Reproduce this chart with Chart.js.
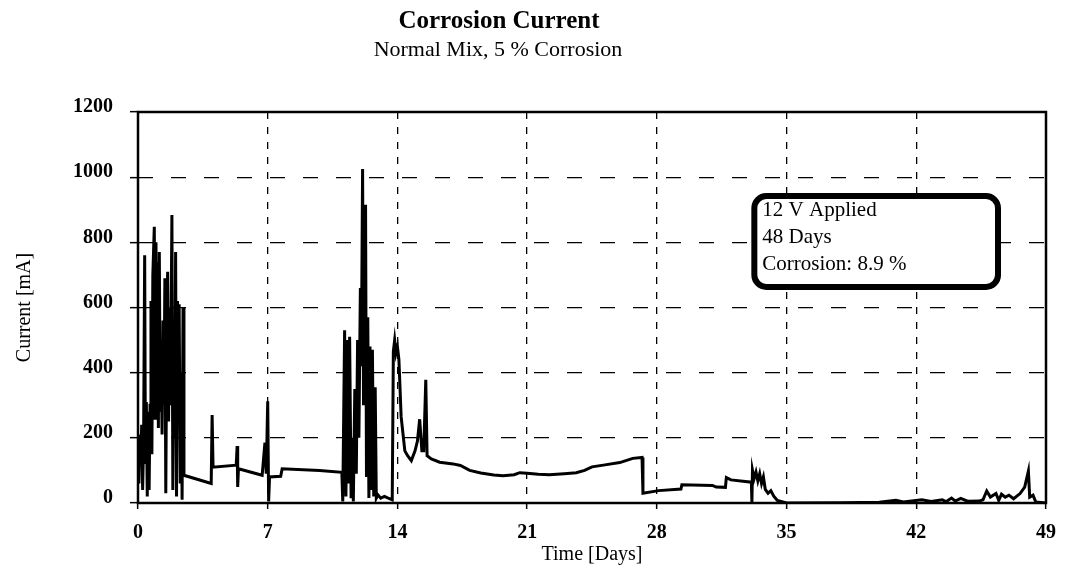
<!DOCTYPE html>
<html>
<head>
<meta charset="utf-8">
<script src="https://cdn.jsdelivr.net/npm/chart.js@4.4.0/dist/chart.umd.min.js"></script>
<style>
	body { margin: 0; background: #fff; }
</style>
</head>
<body>
<canvas id="chart" width="1068" height="574"></canvas>
<script>
const TITLE = "Corrosion Current";
const SUBTITLE = "Normal Mix, 5 % Corrosion";
const X_TITLE = "Time [Days]";
const Y_TITLE = "Current [mA]";
const NOTE_LINES = ["12 V Applied", "48 Days", "Corrosion: 8.9 %"];
const X_TICKS = [0, 7, 14, 21, 28, 35, 42, 49];
const Y_TICKS = [0, 200, 400, 600, 800, 1000, 1200];

// time in days
const DAYS = [
	0.00, 0.05, 0.10, 0.15, 0.20, 0.25, 0.30, 0.36, 0.40, 0.45,
	0.50, 0.55, 0.60, 0.65, 0.70, 0.75, 0.80, 0.88, 0.92, 0.97,
	1.02, 1.06, 1.10, 1.15, 1.20, 1.25, 1.30, 1.35, 1.40, 1.45,
	1.50, 1.55, 1.60, 1.65, 1.70, 1.75, 1.83, 1.88, 1.93, 1.98,
	2.03, 2.08, 2.13, 2.18, 2.22, 2.28, 2.33, 2.38, 2.43, 2.48,
	3.95, 4.00, 4.05, 5.30, 5.35, 5.38, 5.42, 6.70, 6.85, 6.92,
	7.00, 7.05, 7.10, 7.70, 7.78, 9.80, 11.00, 11.05, 11.15, 11.22,
	11.30, 11.36, 11.42, 11.50, 11.58, 11.62, 11.70, 11.78, 11.85, 11.92,
	12.00, 12.05, 12.12, 12.17, 12.22, 12.28, 12.33, 12.40, 12.46, 12.52,
	12.58, 12.65, 12.72, 12.80, 12.86, 12.95, 13.10, 13.30, 13.50, 13.72,
	13.78, 13.85, 13.92, 14.00, 14.08, 14.20, 14.40, 14.55, 14.75, 14.95,
	15.08, 15.20, 15.32, 15.42, 15.53, 15.60, 15.83, 16.28, 17.00, 17.40,
	17.90, 18.50, 19.20, 19.70, 20.30, 20.60, 21.00, 21.60, 22.20, 23.00,
	23.65, 24.10, 24.50, 25.20, 26.00, 26.70, 27.20, 27.25, 28.10, 29.30,
	29.35, 31.00, 31.20, 31.70, 31.75, 32.00, 33.10, 33.13, 33.16, 33.25,
	33.35, 33.45, 33.55, 33.65, 33.75, 33.85, 34.00, 34.15, 34.30, 34.50,
	34.70, 35.00, 38.00, 40.00, 40.90, 41.30, 42.30, 42.80, 43.40, 43.60,
	43.90, 44.10, 44.40, 44.80, 45.40, 45.60, 45.80, 46.00, 46.30, 46.45,
	46.60, 46.80, 47.00, 47.25, 47.60, 47.85, 48.05, 48.12, 48.30, 48.45,
	49.00,
];
// current in mA
const CURRENT = [
	200, 60, 210, 130, 240, 40, 180, 760, 120, 310,
	20, 280, 40, 300, 620, 150, 700, 848, 260, 800,
	300, 740, 230, 770, 280, 450, 210, 560, 300, 690,
	30, 500, 710, 250, 600, 300, 884, 40, 440, 200,
	770, 20, 620, 300, 610, 60, 400, 10, 600, 85,
	60, 270, 110, 116, 175, 49, 105, 85, 185, 90,
	312, 5, 80, 82, 105, 100, 94, 5, 530, 20,
	500, 60, 510, 15, 200, 5, 350, 90, 500, 200,
	660, 420, 1025, 300, 700, 915, 80, 570, 15, 480,
	40, 470, 20, 355, 15, 25, 15, 20, 15, 10,
	465, 500, 460, 480, 440, 265, 160, 145, 130, 160,
	190, 257, 160, 160, 378, 145, 135, 125, 120, 115,
	100, 92, 86, 84, 87, 93, 91, 88, 87, 90,
	93, 100, 111, 117, 124, 137, 140, 30, 38, 43,
	56, 54, 49, 48, 78, 71, 64, 2, 101, 75,
	95, 68, 90, 60, 80, 42, 30, 38, 22, 8,
	5, 0, 1, 2, 8, 3, 10, 5, 10, 4,
	15, 6, 14, 5, 6, 10, 37, 18, 29, 8,
	27, 18, 24, 13, 29, 49, 98, 18, 24, 3,
	0,
];

const FONT = "'Liberation Serif', 'Times New Roman', serif";
Chart.defaults.font.family = FONT;
Chart.defaults.color = "#000";

const frame = {
	id: "frame",
	afterDatasetsDraw: (chart) => {
		const { ctx, chartArea: a } = chart;
		ctx.save();
		ctx.strokeStyle = "#000";
		ctx.lineWidth = 2.5;
		ctx.strokeRect(a.left, a.top, a.right - a.left, a.bottom - a.top);
		ctx.restore();
	},
};

// text box anchored in data units (days / mA)
const note = {
	id: "note",
	afterDatasetsDraw: (chart, args, opts) => {
		const { ctx, scales } = chart;
		const x1 = scales.x.getPixelForValue(opts.from[0]);
		const x2 = scales.x.getPixelForValue(opts.to[0]);
		const y1 = scales.y.getPixelForValue(opts.from[1]);
		const y2 = scales.y.getPixelForValue(opts.to[1]);
		ctx.save();
		ctx.beginPath();
		ctx.roundRect(x1, y1, x2 - x1, y2 - y1, 12);
		ctx.fillStyle = "#fff";
		ctx.fill();
		ctx.lineWidth = 6;
		ctx.strokeStyle = "#000";
		ctx.stroke();
		ctx.fillStyle = "#000";
		ctx.font = `21px ${FONT}`;
		ctx.textBaseline = "alphabetic";
		NOTE_LINES.forEach((line, i) => {
			ctx.fillText(line, x1 + 8, y1 + 20 + i * 27);
		});
		ctx.restore();
	},
};

const titles = {
	id: "titles",
	afterDraw: (chart) => {
		const { ctx } = chart;
		ctx.save();
		ctx.fillStyle = "#000";
		ctx.textAlign = "center";
		ctx.font = `bold 25px ${FONT}`;
		ctx.fillText(TITLE, 499, 28);
		ctx.font = `22px ${FONT}`;
		ctx.fillText(SUBTITLE, 498, 56);
		ctx.restore();
	},
};

new Chart(document.getElementById("chart"), {
	type: "line",
	data: {
		datasets: [
			{
				data: DAYS.map((d, i) => ({ x: d, y: CURRENT[i] })),
				borderColor: "#000",
				borderWidth: 3,
				pointRadius: 0,
				tension: 0,
				fill: false,
			},
		],
	},
	plugins: [frame, note, titles],
	options: {
		responsive: false,
		animation: false,
		devicePixelRatio: 1,
		layout: { padding: { left: 0, right: 21, top: 112, bottom: 0 } },
		plugins: {
			legend: { display: false },
			tooltip: { enabled: false },
			note: { from: [33.26, 942], to: [46.41, 663] },
		},
		scales: {
			x: {
				type: "linear",
				min: 0,
				max: 49,
				afterBuildTicks: (s) => {
					s.ticks = X_TICKS.map((v) => ({ value: v }));
				},
				afterFit: (s) => {
					s.height = 71;
				},
				ticks: {
					autoSkip: false,
					maxRotation: 0,
					padding: 12,
					font: { size: 20, weight: "bold" },
					callback: (v) => String(v),
				},
				grid: {
					color: "#000",
					lineWidth: 1.3,
					tickLength: 6,
					tickWidth: 1.5,
				},
				border: { display: false, dash: [7, 8] },
				title: {
					display: true,
					text: X_TITLE,
					font: { size: 20 },
					padding: { top: 0, bottom: 7 },
				},
			},
			y: {
				min: 0,
				max: 1200,
				afterBuildTicks: (s) => {
					s.ticks = Y_TICKS.map((v) => ({ value: v }));
				},
				afterFit: (s) => {
					s.width = 138;
				},
				ticks: {
					padding: 17,
					labelOffset: -5,
					font: { size: 20, weight: "bold" },
					callback: (v) => String(v),
				},
				grid: {
					color: "#000",
					lineWidth: 1.3,
					tickLength: 8,
					tickWidth: 1.5,
				},
				border: { display: false, dash: [15, 18] },
				title: {
					display: true,
					text: Y_TITLE,
					font: { size: 20 },
					padding: { top: 13, bottom: 0 },
				},
			},
		},
	},
});
</script>
</body>
</html>
